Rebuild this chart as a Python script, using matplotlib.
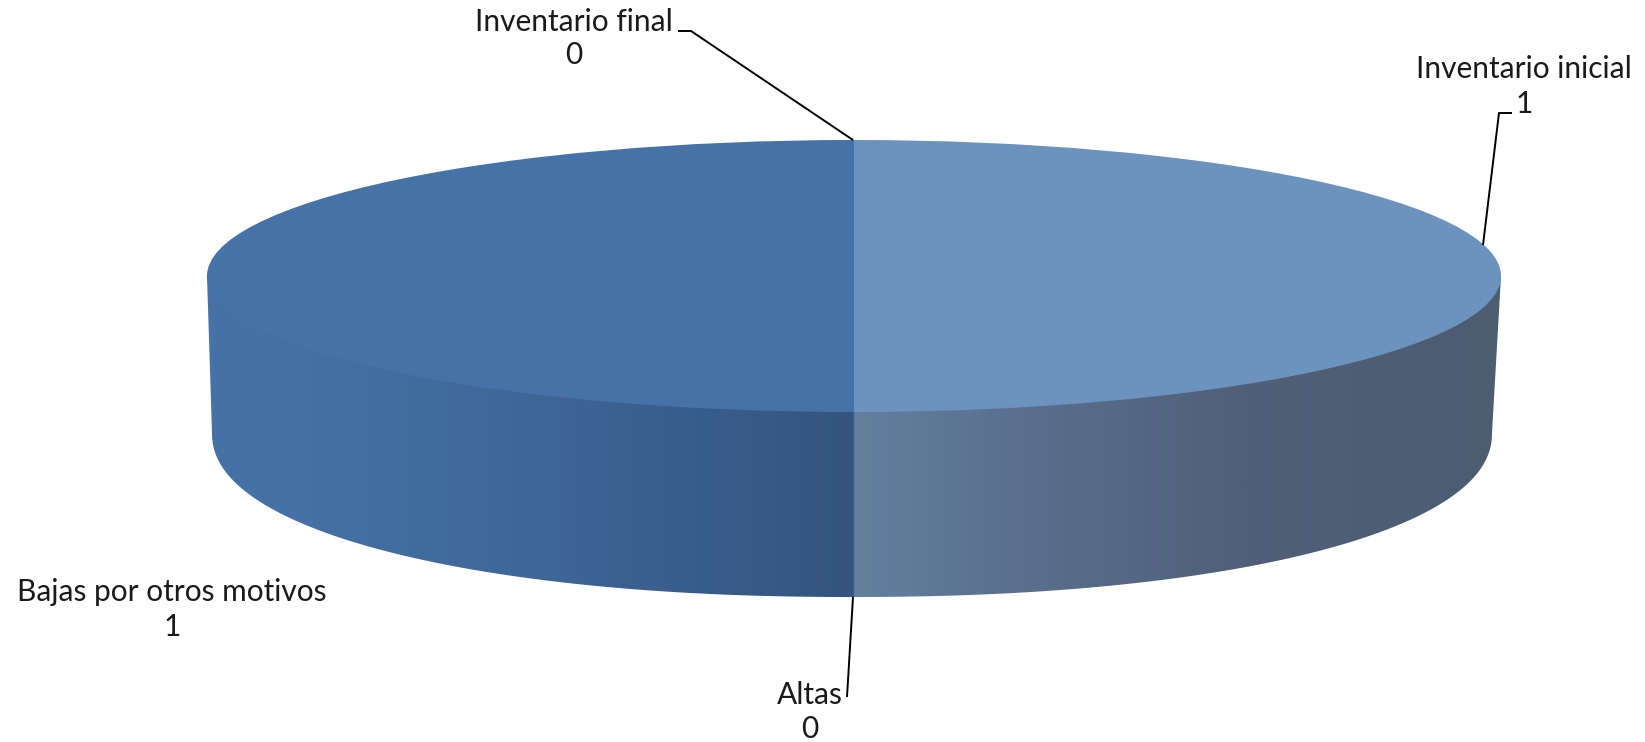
import numpy as np
import matplotlib
matplotlib.use('Agg')
import matplotlib.pyplot as plt
from matplotlib.colors import LinearSegmentedColormap
from matplotlib.patches import Polygon

plt.rcParams['font.family'] = ['Lato', 'DejaVu Sans']

categorias = ['Inventario inicial', 'Altas', 'Bajas por otros motivos', 'Inventario final']
valores = [1, 0, 1, 0]
colores = ['#6C92BE', '#5B7FA8', '#4672A8', '#4672A8']

W, H = 1645, 742
cx, cy, rx, ry = 854, 276, 647, 136      # tapa
cx2, cy2, rx2, ry2 = 852, 433, 640, 164  # base
n_base = 2.15  # la base se ve algo mas llena que una elipse (perspectiva)

fig = plt.figure(figsize=(W/100, H/100), dpi=100)
ax = fig.add_axes([0, 0, 1, 1], zorder=1)

# pared lateral, con degradado
t = np.linspace(0, np.pi, 400)
bx = cx2 + rx2*np.sign(np.cos(t))*np.abs(np.cos(t))**(2/n_base)
by = cy2 + ry2*np.abs(np.sin(t))**(2/n_base)
pared = np.vstack([[[cx + rx, cy]], np.column_stack([bx, by]), [[cx - rx, cy]]])
tx = np.linspace(np.pi, 0, 200)
pared = np.vstack([pared, np.column_stack([cx + rx*np.cos(tx), cy + ry*np.sin(tx)*0.2])])

cmap = LinearSegmentedColormap.from_list('pared', [
    (0.00, '#4672A8'), (0.08, '#4470A5'), (0.15, '#416D9F'), (0.25, '#3E6797'),
    (0.33, '#3B6090'), (0.42, '#375A87'), (0.499, '#33557F'), (0.501, '#63809F'),
    (0.62, '#5B7090'), (0.80, '#4F6078'), (1.00, '#4C5C71'),
])
grad = np.linspace(0, 1, 800).reshape(1, -1)
im = ax.imshow(grad, cmap=cmap, extent=(cx - rx, cx + rx, 620, 260), aspect='auto', interpolation='bilinear')
clip = Polygon(pared, closed=True, transform=ax.transData, fc='none', ec='none')
ax.add_patch(clip)
im.set_clip_path(clip)

ax.set_xlim(0, W)
ax.set_ylim(H, 0)
ax.axis('off')

# tapa: pie normal, aplastado por la caja de los ejes
ax_pie = fig.add_axes([(cx - rx)/W, 1 - (cy + ry)/H, 2*rx/W, 2*ry/H], zorder=2)
ax_pie.pie(valores, colors=colores, startangle=90, counterclock=False, radius=1,
           wedgeprops={'linewidth': 0})
ax_pie.set_aspect('auto')
ax_pie.set_xlim(-1, 1)
ax_pie.set_ylim(-1, 1)

# etiquetas y lineas guia
pos_etiquetas = [(1524, 69, 104), (810, 695, 729), (172, 592, 627), (574, 22, 55)]
guias = [
    ([1512, 1499, 1483], [113, 113, 245]),
    ([853, 847], [597, 697]),
    None,
    ([678, 691, 853], [31, 31, 140]),
]
ax_txt = fig.add_axes([0, 0, 1, 1], zorder=3)
ax_txt.set_xlim(0, W)
ax_txt.set_ylim(H, 0)
ax_txt.axis('off')
for nombre, v, (x, y1, y2), g in zip(categorias, valores, pos_etiquetas, guias):
    ax_txt.text(x, y1, nombre, ha='center', va='center', fontsize=21.5, color='#1A1A1A')
    ax_txt.text(x, y2, str(v), ha='center', va='center', fontsize=21.5, color='#1A1A1A')
    if g is not None:
        ax_txt.plot(g[0], g[1], color='black', lw=1.4, solid_capstyle='butt')

fig.savefig('out.png', dpi=100)
